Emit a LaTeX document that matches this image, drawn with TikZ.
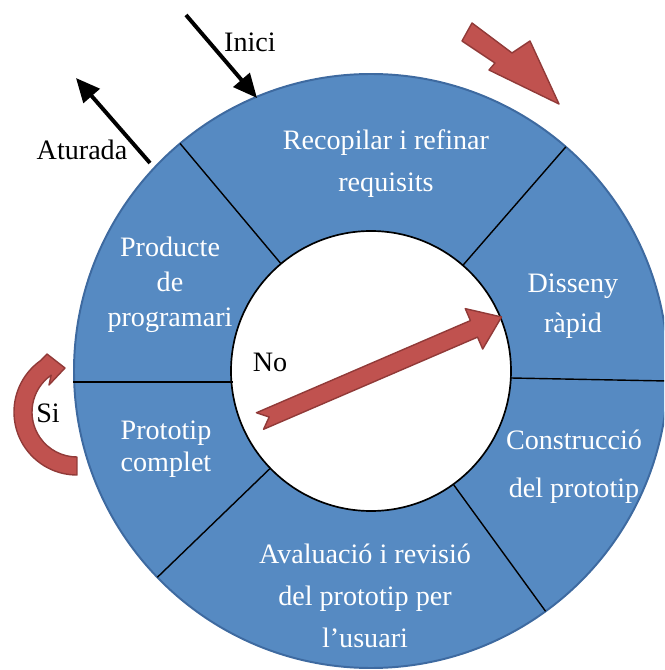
\documentclass[tikz,border=0pt]{standalone}
\usepackage{fontspec}
\setmainfont{Liberation Serif}
\usetikzlibrary{arrows.meta}

\definecolor{anella}{RGB}{86,138,194}
\definecolor{voraanella}{RGB}{62,106,160}
\definecolor{vermell}{RGB}{192,82,79}
\definecolor{voravermell}{RGB}{145,58,56}

\tikzset{
  ring/.style={fill=anella, draw=voraanella, line width=1.4pt},
  sep/.style={line width=1pt},
  segtext/.style={text=white, align=center, font=\fontsize{20}{30}\selectfont},
  lbl/.style={font=\fontsize{20}{24}\selectfont},
  flow/.style={line width=2.8pt, -{Triangle[length=17pt,width=15pt]}},
  redarr/.style={fill=vermell, draw=voravermell, line width=1pt, line join=round},
}

% fletxa gruixuda: cua, angle, llargada, mitja canya, mitja punta, llargada punta, osca
\newcommand{\fletxa}[7]{%
  \begin{scope}[shift={#1}, rotate=#2]
    \draw[redarr] (0,-#4) -- ({#3-#6},-#4) -- ({#3-#6},-#5) -- (#3,0)
      -- ({#3-#6},#5) -- ({#3-#6},#4) -- (0,#4) -- (#7,0) -- cycle;
  \end{scope}}

\begin{document}
\begin{tikzpicture}[x=0.025cm,y=0.025cm]
\pgfmathsetmacro{\rout}{297}
\pgfmathsetmacro{\rin}{140}
\useasboundingbox (-371,-299) rectangle (293,371);
\clip (-371,-299) rectangle (293,371);
\coordinate (o) at (0,0);

% anella
\draw[ring] (o) circle (\rout);
\draw[fill=white, line width=1.2pt] (o) circle (\rin);

\foreach \a in {130,49,-54,-136}
  \draw[sep] (\a:\rin) -- (\a:\rout);
\draw[sep] (-138,-11) -- (-298,-11);
\draw[sep] (140,-7) -- (296,-10);

% fases
\node[segtext] (recop) at (15,207) {Recopilar i refinar\\requisits};
\node[segtext, font=\fontsize{20}{28.5}\selectfont] (disseny) at (202,65) {Disseny\\ràpid};
\node[segtext, font=\fontsize{20}{34}\selectfont] (constr) at (203,-96) {Construcció\\del prototip};
\node[segtext] (aval) at (-6,-225) {Avaluació i revisió\\del prototip per\\l’usuari};
\node[segtext, font=\fontsize{20}{23}\selectfont] (protot) at (-205,-78) {Prototip\\complet};
\node[segtext, font=\fontsize{20}{25}\selectfont] (producte) at (-201,86) {Producte\\de\\programari};

% entrada i sortida
\node[lbl] (inici) at (-121,329) {Inici};
\node[lbl] (aturada) at (-289,221) {Aturada};
\node[lbl] (no) at (-101,9) {No};
\node[lbl] (si) at (-323,-42) {Si};

\coordinate (iniciA) at (-185,356);
\coordinate (iniciB) at (-114,273);
\draw[flow] (iniciA) -- (iniciB);
\coordinate (aturA) at (-221,208);
\coordinate (aturB) at (-295,293);
\draw[flow] (aturA) -- (aturB);

% fletxes vermelles
\draw[redarr] (101,348) -- (141,318) -- (159,330) -- (188,267) -- (118,301)
  -- (124,308) -- (91,330) -- cycle;
\fletxa{(-111,-50)}{23.3}{263}{9}{22}{30}{10}

\begin{scope}[shift={(-294,-41)}]
\draw[redarr] (-90:63) arc[start angle=-90, end angle=-235, radius=63]
  -- (-30,58) -- (-12,44) -- (-28,27) -- (125:45)
  arc[start angle=125, end angle=270, radius=45] -- cycle;
\end{scope}

\end{tikzpicture}
\end{document}
